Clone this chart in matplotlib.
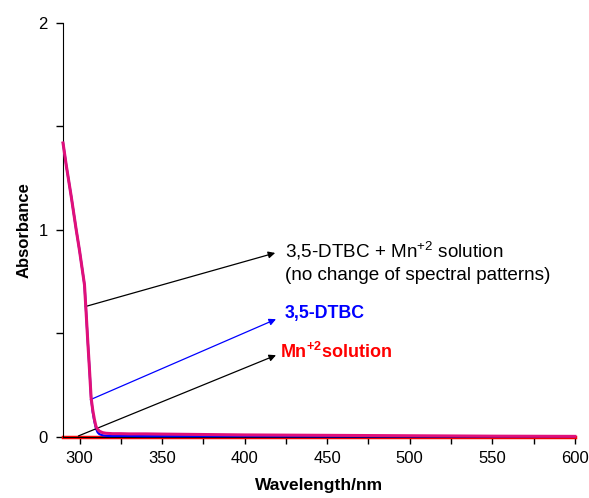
import numpy as np
import matplotlib
matplotlib.use("Agg")
import matplotlib.pyplot as plt
from matplotlib.ticker import MultipleLocator

plt.rcParams['font.family'] = ['Liberation Sans', 'DejaVu Sans']
plt.rcParams['mathtext.fontset'] = 'custom'
plt.rcParams['mathtext.rm'] = 'Liberation Sans'
plt.rcParams['mathtext.bf'] = 'Liberation Sans:bold'

# spectra
wavelength = [290, 292, 295, 298, 300, 302, 303, 304, 305, 306, 307, 308, 309, 310,
              311, 312, 314, 316, 318, 320, 325, 330, 340, 350, 375, 400, 450, 500, 550, 600]
dtbc_mn = [1.42, 1.31, 1.16, 1.00, 0.90, 0.79, 0.735, 0.60, 0.46, 0.33, 0.19, 0.13, 0.085, 0.05,
           0.037, 0.028, 0.021, 0.018, 0.017, 0.016, 0.016, 0.015, 0.015, 0.014, 0.012, 0.010,
           0.008, 0.006, 0.004, 0.003]
dtbc = [1.42, 1.31, 1.16, 1.00, 0.90, 0.79, 0.735, 0.60, 0.46, 0.33, 0.19, 0.12, 0.075, 0.04,
        0.022, 0.014, 0.008, 0.006, 0.005, 0.005, 0.005, 0.005, 0.004, 0.004, 0.004, 0.004,
        0.003, 0.003, 0.003, 0.003]
mn_soln = [0.001] * len(wavelength)

fig = plt.figure(figsize=(5.89, 4.98), dpi=100)
ax = fig.add_axes([0.107, 0.1225, 0.869, 0.8315])

ax.plot(wavelength, mn_soln, color='#ff0000', lw=2.5, clip_on=False, zorder=2)
ax.plot(wavelength, dtbc, color='#0000ff', lw=1.6, clip_on=False, zorder=3)
ax.plot(wavelength, dtbc_mn, color='#e0107a', lw=2.2, clip_on=False, zorder=4)

ax.set_xlim(290, 600)
ax.set_ylim(0, 2)
ax.xaxis.set_major_locator(MultipleLocator(50))
ax.xaxis.set_minor_locator(MultipleLocator(25))
ax.yaxis.set_major_locator(MultipleLocator(1))
ax.yaxis.set_minor_locator(MultipleLocator(0.5))
ax.tick_params(which='both', direction='out', length=5, width=1)
ax.tick_params(axis='x', pad=5, labelsize=12)
ax.tick_params(axis='y', pad=6, labelsize=12)
for s in ['top', 'right']:
    ax.spines[s].set_visible(False)

ax.set_xlabel('Wavelength/nm', fontsize=12.5, fontweight='bold', labelpad=9)
ax.set_ylabel('Absorbance', fontsize=12, fontweight='bold', labelpad=5)

# annotations
ax.annotate('', xy=(418.5, 0.889), xytext=(303.5, 0.63),
            arrowprops=dict(arrowstyle='-|>', color='black', lw=0.9, mutation_scale=10,
                            shrinkA=0, shrinkB=0))
ax.text(424.5, 0.902, r'3,5-DTBC + Mn$^{+2}$ solution', fontsize=13.6, va='center', ha='left')
ax.text(424.5, 0.78, '(no change of spectral patterns)', fontsize=13.6, va='center', ha='left')

ax.annotate('', xy=(419, 0.569), xytext=(306.5, 0.18),
            arrowprops=dict(arrowstyle='-|>', color='#0000ff', lw=0.9, mutation_scale=10,
                            shrinkA=0, shrinkB=0))
ax.text(424.5, 0.598, '3,5-DTBC', fontsize=12.8, fontweight='bold', color='#0000ff',
        va='center', ha='left')

ax.annotate('', xy=(419, 0.395), xytext=(299.3, 0.005),
            arrowprops=dict(arrowstyle='-|>', color='black', lw=0.9, mutation_scale=10,
                            shrinkA=0, shrinkB=0))
ax.text(421.5, 0.41, r'Mn$^{\mathbf{+2}}$solution', fontsize=13, fontweight='bold',
        color='#ff0000', va='center', ha='left')

fig.savefig('out.png', dpi=100)
